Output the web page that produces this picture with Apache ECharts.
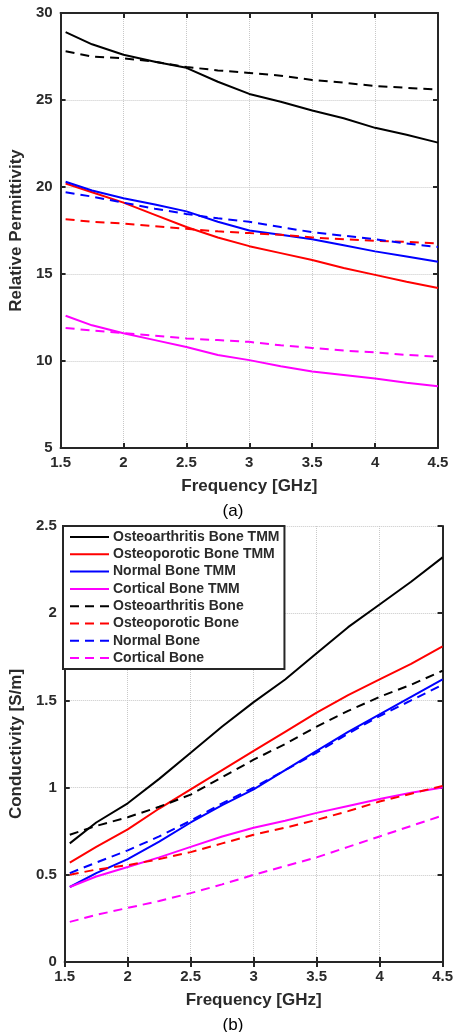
<!DOCTYPE html>
<html>
<head>
<meta charset="utf-8">
<script src="https://cdn.jsdelivr.net/npm/echarts@6/dist/echarts.min.js"></script>
<style>
  html, body { margin: 0; padding: 0; background: #fff; }
  #main { width: 456px; height: 1032px; }
</style>
</head>
<body>
<div id="main"></div>
<script>
var myChart = echarts.init(document.getElementById('main'));

// frequency points (GHz)
var freq = [1.54, 1.75, 2, 2.25, 2.5, 2.75, 3, 3.25, 3.5, 3.75, 4, 4.25, 4.5];

// (a) relative permittivity
var permOaTmm = [28.9, 28.2, 27.6, 27.2, 26.85, 26.05, 25.35, 24.9, 24.4, 23.95, 23.4, 23.0, 22.55];
var permOpTmm = [20.2, 19.7, 19.1, 18.4, 17.7, 17.1, 16.6, 16.2, 15.8, 15.35, 14.95, 14.55, 14.2];
var permNbTmm = [20.3, 19.8, 19.35, 19.0, 18.6, 18.0, 17.5, 17.25, 17.0, 16.65, 16.3, 16.0, 15.7];
var permCbTmm = [12.6, 12.05, 11.6, 11.2, 10.8, 10.35, 10.05, 9.7, 9.4, 9.2, 9.0, 8.75, 8.55];
var permOa = [27.8, 27.5, 27.4, 27.2, 26.9, 26.7, 26.55, 26.4, 26.15, 26.0, 25.8, 25.7, 25.6];
var permOp = [18.15, 18.0, 17.9, 17.75, 17.6, 17.45, 17.35, 17.25, 17.1, 17.0, 16.9, 16.85, 16.75];
var permNb = [19.7, 19.45, 19.1, 18.75, 18.45, 18.2, 18.0, 17.7, 17.4, 17.2, 17.0, 16.75, 16.55];
var permCb = [11.9, 11.75, 11.6, 11.45, 11.3, 11.2, 11.1, 10.9, 10.75, 10.6, 10.5, 10.35, 10.25];

// (b) conductivity
var condOaTmm = [0.68, 0.80, 0.91, 1.05, 1.20, 1.35, 1.49, 1.62, 1.77, 1.92, 2.05, 2.18, 2.32];
var condOpTmm = [0.57, 0.66, 0.76, 0.88, 0.99, 1.10, 1.21, 1.32, 1.43, 1.53, 1.62, 1.71, 1.81];
var condNbTmm = [0.43, 0.51, 0.59, 0.69, 0.80, 0.90, 0.99, 1.10, 1.21, 1.32, 1.42, 1.52, 1.62];
var condCbTmm = [0.43, 0.49, 0.545, 0.60, 0.66, 0.72, 0.77, 0.81, 0.855, 0.895, 0.935, 0.97, 1.0];
var condOa = [0.73, 0.78, 0.83, 0.89, 0.96, 1.06, 1.16, 1.25, 1.35, 1.44, 1.52, 1.59, 1.67];
var condOp = [0.50, 0.53, 0.555, 0.59, 0.63, 0.68, 0.73, 0.77, 0.815, 0.865, 0.92, 0.965, 1.01];
var condNb = [0.51, 0.57, 0.64, 0.72, 0.81, 0.91, 1.00, 1.10, 1.20, 1.31, 1.41, 1.50, 1.59];
var condCb = [0.23, 0.27, 0.31, 0.35, 0.395, 0.445, 0.50, 0.55, 0.60, 0.66, 0.72, 0.78, 0.84];

var names = ['Osteoarthritis Bone TMM', 'Osteoporotic Bone TMM', 'Normal Bone TMM', 'Cortical Bone TMM',
             'Osteoarthritis Bone', 'Osteoporotic Bone', 'Normal Bone', 'Cortical Bone'];
var colors = ['#000000', '#ff0000', '#0000ff', '#ff00ff', '#000000', '#ff0000', '#0000ff', '#ff00ff'];
var permData = [permOaTmm, permOpTmm, permNbTmm, permCbTmm, permOa, permOp, permNb, permCb];
var condData = [condOaTmm, condOpTmm, condNbTmm, condCbTmm, condOa, condOp, condNb, condCb];

var font = 'Arial, "Liberation Sans", sans-serif';
var axisCol = '#262626';
var textCol = '#2a2a2a';

function pairs(vals) {
    return freq.map(function (f, i) { return [f, vals[i]]; });
}

var series = [];
[permData, condData].forEach(function (set, g) {
    set.forEach(function (vals, i) {
        series.push({
            name: names[i],
            type: 'line',
            xAxisIndex: g * 2,
            yAxisIndex: g * 2,
            symbol: 'none',
            animation: false,
            data: pairs(vals),
            lineStyle: {
                color: colors[i],
                width: 2,
                type: i < 4 ? 'solid' : [9, 6]
            },
            itemStyle: { color: colors[i] }
        });
    });
});

function mainX(grid, gap) {
    return {
        type: 'value', gridIndex: grid, min: 1.5, max: 4.5, interval: 0.5,
        name: 'Frequency [GHz]', nameLocation: 'middle', nameGap: gap,
        nameTextStyle: { fontFamily: font, fontWeight: 'bold', fontSize: 17, color: textCol },
        axisLine: { lineStyle: { color: axisCol, width: 2 } },
        axisTick: { inside: true, length: 5, lineStyle: { color: axisCol, width: 2 } },
        axisLabel: { fontFamily: font, fontWeight: 'bold', fontSize: 15, color: textCol, margin: 7 },
        splitLine: { show: true, lineStyle: { color: '#c8c8c8', type: 'dotted', width: 1 } }
    };
}
function mirrorX(grid) {
    return {
        type: 'value', gridIndex: grid, min: 1.5, max: 4.5, interval: 0.5, position: 'top',
        axisLine: { lineStyle: { color: axisCol, width: 2 } },
        axisTick: { inside: true, length: 5, lineStyle: { color: axisCol, width: 2 } },
        axisLabel: { show: false }, splitLine: { show: false }
    };
}
function mainY(grid, name, min, max, gap) {
    return {
        type: 'value', gridIndex: grid, min: min, max: max, interval: (max - min) / 5,
        name: name, nameLocation: 'middle', nameGap: gap,
        nameTextStyle: { fontFamily: font, fontWeight: 'bold', fontSize: 17, color: textCol },
        axisLine: { show: true, lineStyle: { color: axisCol, width: 2 } },
        axisTick: { show: true, inside: true, length: 5, lineStyle: { color: axisCol, width: 2 } },
        axisLabel: { fontFamily: font, fontWeight: 'bold', fontSize: 15, color: textCol, margin: 8 },
        splitLine: { show: true, lineStyle: { color: '#c8c8c8', type: 'dotted', width: 1 } }
    };
}
function mirrorY(grid, min, max) {
    return {
        type: 'value', gridIndex: grid, min: min, max: max, interval: (max - min) / 5, position: 'right',
        axisLine: { show: true, lineStyle: { color: axisCol, width: 2 } },
        axisTick: { show: true, inside: true, length: 5, lineStyle: { color: axisCol, width: 2 } },
        axisLabel: { show: false }, splitLine: { show: false }
    };
}

option = {
    backgroundColor: '#fff',
    animation: false,
    title: [
        { text: '(a)', left: 228, top: 498, textAlign: 'center',
          textStyle: { fontFamily: font, fontWeight: 'normal', fontSize: 17, color: '#000' } },
        { text: '(b)', left: 228, top: 1012, textAlign: 'center',
          textStyle: { fontFamily: font, fontWeight: 'normal', fontSize: 17, color: '#000' } }
    ],
    legend: {
        data: names,
        orient: 'vertical',
        left: 63,
        top: 526,
        padding: [4, 5, 4, 6],
        itemGap: 3.3,
        itemWidth: 39,
        itemHeight: 14,
        itemStyle: { opacity: 0 },
        backgroundColor: '#fff',
        borderColor: axisCol,
        borderWidth: 2,
        borderRadius: 0,
        textStyle: { fontFamily: font, fontWeight: 'bold', fontSize: 14, color: textCol, lineHeight: 14, padding: [0, 0, 0, -1] },
        z: 10
    },
    grid: [
        { left: 58, top: 13, width: 380, height: 435 },
        { left: 63, top: 526, width: 382, height: 436 }
    ],
    xAxis: [mainX(0, 30), mirrorX(0), mainX(1, 30), mirrorX(1)],
    yAxis: [
        mainY(0, 'Relative Permittivity', 5, 30, 30), mirrorY(0, 5, 30),
        mainY(1, 'Conductivity [S/m]', 0, 2.5, 33), mirrorY(1, 0, 2.5)
    ],
    series: series
};
myChart.setOption(option);
</script>
</body>
</html>
